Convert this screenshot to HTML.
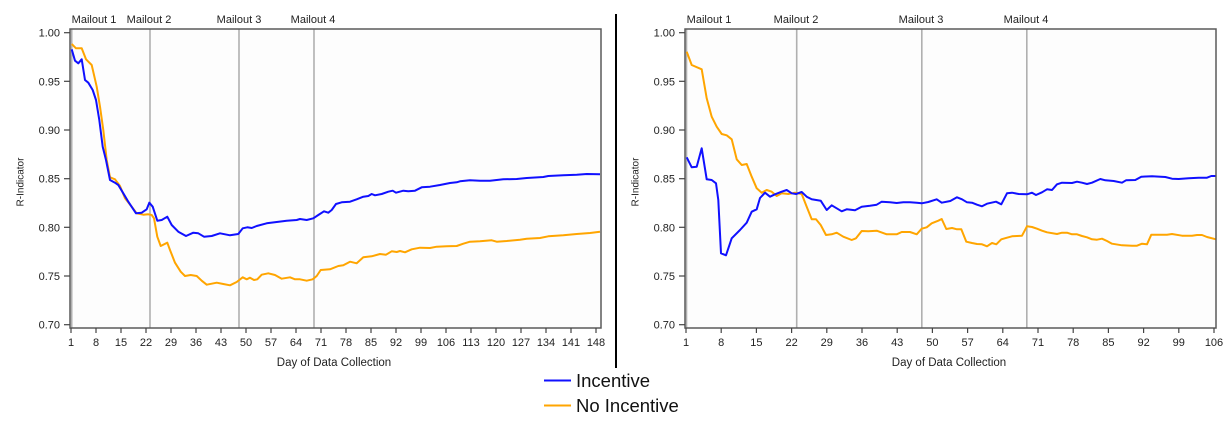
<!DOCTYPE html>
<html><head><meta charset="utf-8"><style>
html,body{margin:0;padding:0;background:#fff;}
svg{display:block;}
text{font-family:"Liberation Sans",sans-serif;fill:#222;}
</style></head><body>
<svg width="1232" height="429" viewBox="0 0 1232 429" xmlns="http://www.w3.org/2000/svg">
<rect width="1232" height="429" fill="#fff"/>
<!-- LEFT CHART -->
<g>
<rect x="70" y="29" width="531" height="299" fill="#fdfdfd" stroke="none"/>
<g stroke="#b0b0b0" stroke-width="1.6">
<line x1="71.7" y1="29" x2="71.7" y2="328"/>
<line x1="150" y1="29" x2="150" y2="328"/>
<line x1="239" y1="29" x2="239" y2="328"/>
<line x1="314" y1="29" x2="314" y2="328"/>
</g>
<g font-size="11" text-anchor="middle">
<text x="94" y="23">Mailout 1</text>
<text x="149" y="23">Mailout 2</text>
<text x="239" y="23">Mailout 3</text>
<text x="313" y="23">Mailout 4</text>
</g>
<polyline fill="none" stroke="#ffa500" stroke-width="2" stroke-linejoin="round" points="71.7,44 76,48.3 81.7,48.3 86,59.3 91.7,65 96.7,86.7 100,106.7 103.3,130 106.7,160 110,177.3 115,179.3 120,186 125,198.3 131.7,206.7 136.7,213.3 143.3,214.7 148.3,214.3 151.7,215 154,218.3 157.3,236.7 160.7,246 167.3,242.7 170,250 175,262.7 180.7,271.7 185,276 190.7,275 196.7,276 201.7,280.7 206.7,284.7 216.7,282.7 223.3,284 230,285.3 236.7,282 242.7,277.3 246.7,279.3 250,277.7 254,280 257.3,279.3 261.7,274.7 268.3,273.3 275,275 281.7,278.7 290,277.3 295,279.3 300,279.3 306.7,280.7 312.7,279.3 316.7,276 320.7,270 330,269.3 338.3,266 343.3,265.3 350,261.7 356.7,263.3 363.3,257.3 371.7,256.3 380,254 386,254.7 391.7,251.3 396.7,252 400,251 405,252.3 411.7,249.3 420,247.7 430,248 436.7,246.7 446.7,246.3 456.7,246 463.3,243.7 470,241.7 480,241.3 491.7,240.3 496.7,241.7 506.7,241 520,239.7 526.7,238.7 540,238 548.3,236.3 563.3,235.3 576.7,234 590,233 600,231.7"/>
<polyline fill="none" stroke="#1010ff" stroke-width="2" stroke-linejoin="round" points="71.7,49.3 75,60.7 78.3,63.3 81.7,59.3 85,80 88.3,82.7 92.7,90 96,100 99.3,120 102.7,146.7 106,160 110,180 115,182.7 118.3,185 123.3,193.3 128.3,201.7 136,213.3 141.7,212.7 146.7,209.3 149.3,202.7 152.7,206.7 157.3,220.7 161.7,220 167.3,216.7 171.7,225 178.3,231.7 186,236 193.3,232.7 198.3,233.3 204,236.7 211.7,236 220,233.3 230,235.3 238.3,234 242.7,228.3 247.3,227.3 251.7,228 256.7,226 266.7,223.3 276.7,222 286.7,220.7 296.7,220 300,219 306.7,220 313.3,218.3 318.3,215 324,211.3 328.3,212.7 331.7,210 336,204 341.7,202.3 350,201.7 356.7,199.3 363.3,196.7 368.3,196 371.7,194 375,195.3 381.7,194 388.3,191.7 392.7,190.7 396,192.7 403.3,190.7 408.3,191.3 415,190.7 421.7,187.3 430,186.7 440,185 450,183 456.7,182.3 460,181.3 470,180.3 480,180.7 490,180.7 503.3,179.3 516.7,179 526.7,178 543.3,177 548.3,176 563.3,175.3 576.7,174.7 586.7,174 600,174.3"/>
<rect x="70" y="29" width="531" height="299" fill="none" stroke="#5a5a5a" stroke-width="1.5"/>
<g stroke="#444" stroke-width="1.2">
<line x1="64" y1="32.7" x2="70" y2="32.7"/><line x1="64" y1="81.3" x2="70" y2="81.3"/><line x1="64" y1="130" x2="70" y2="130"/><line x1="64" y1="178.7" x2="70" y2="178.7"/><line x1="64" y1="227.3" x2="70" y2="227.3"/><line x1="64" y1="276" x2="70" y2="276"/><line x1="64" y1="324.7" x2="70" y2="324.7"/>
</g>
<g font-size="11" text-anchor="end">
<text x="60" y="36.7">1.00</text><text x="60" y="85.3">0.95</text><text x="60" y="134">0.90</text><text x="60" y="182.7">0.85</text><text x="60" y="231.3">0.80</text><text x="60" y="280">0.75</text><text x="60" y="328.7">0.70</text>
</g>
<g stroke="#444" stroke-width="1.2">
<line x1="71" y1="328" x2="71" y2="333"/><line x1="96" y1="328" x2="96" y2="333"/><line x1="121" y1="328" x2="121" y2="333"/><line x1="146" y1="328" x2="146" y2="333"/><line x1="171" y1="328" x2="171" y2="333"/><line x1="196" y1="328" x2="196" y2="333"/><line x1="221" y1="328" x2="221" y2="333"/><line x1="246" y1="328" x2="246" y2="333"/><line x1="271" y1="328" x2="271" y2="333"/><line x1="296" y1="328" x2="296" y2="333"/><line x1="321" y1="328" x2="321" y2="333"/><line x1="346" y1="328" x2="346" y2="333"/><line x1="371" y1="328" x2="371" y2="333"/><line x1="396" y1="328" x2="396" y2="333"/><line x1="421" y1="328" x2="421" y2="333"/><line x1="446" y1="328" x2="446" y2="333"/><line x1="471" y1="328" x2="471" y2="333"/><line x1="496" y1="328" x2="496" y2="333"/><line x1="521" y1="328" x2="521" y2="333"/><line x1="546" y1="328" x2="546" y2="333"/><line x1="571" y1="328" x2="571" y2="333"/><line x1="596" y1="328" x2="596" y2="333"/>
</g>
<g font-size="11" text-anchor="middle">
<text x="71" y="346">1</text><text x="96" y="346">8</text><text x="121" y="346">15</text><text x="146" y="346">22</text><text x="171" y="346">29</text><text x="196" y="346">36</text><text x="221" y="346">43</text><text x="246" y="346">50</text><text x="271" y="346">57</text><text x="296" y="346">64</text><text x="321" y="346">71</text><text x="346" y="346">78</text><text x="371" y="346">85</text><text x="396" y="346">92</text><text x="421" y="346">99</text><text x="446" y="346">106</text><text x="471" y="346">113</text><text x="496" y="346">120</text><text x="521" y="346">127</text><text x="546" y="346">134</text><text x="571" y="346">141</text><text x="596" y="346">148</text>
</g>
<text x="334" y="366" font-size="11.5" text-anchor="middle">Day of Data Collection</text>
<text transform="translate(23.5,182) rotate(-90)" font-size="10" text-anchor="middle">R-Indicator</text>
</g>

<!-- SEPARATOR -->
<line x1="616" y1="14" x2="616" y2="368" stroke="#000" stroke-width="2"/>

<!-- RIGHT CHART -->
<g>
<rect x="685" y="29" width="531" height="299" fill="#fdfdfd" stroke="none"/>
<g stroke="#b0b0b0" stroke-width="1.6">
<line x1="686.5" y1="29" x2="686.5" y2="328"/>
<line x1="796.7" y1="29" x2="796.7" y2="328"/>
<line x1="921.8" y1="29" x2="921.8" y2="328"/>
<line x1="1026.8" y1="29" x2="1026.8" y2="328"/>
</g>
<g font-size="11" text-anchor="middle">
<text x="709" y="23">Mailout 1</text>
<text x="796" y="23">Mailout 2</text>
<text x="921" y="23">Mailout 3</text>
<text x="1026" y="23">Mailout 4</text>
</g>
<polyline fill="none" stroke="#ffa500" stroke-width="2" stroke-linejoin="round" points="686.7,51.7 691.7,65 701.7,69.3 706.7,98.3 711.7,116.7 716.7,126.7 721.7,134 726.7,135.3 731.7,139.3 736.7,159.3 741.7,165 746.7,164 751.7,176.7 756.7,188.3 761.7,192.7 766.7,190 771.7,191.7 776.7,196 781.7,193.3 788.3,194 795,192.7 801.7,194 806.7,206.7 811.7,219.3 816,219.3 820.7,225 826,235 831.7,234.3 836.7,232.7 843.3,236.7 851.7,240 856,238.3 861.7,231 868.3,231.3 876.7,230.7 886.7,234.3 896.7,234.3 901.7,232 910,232 916.7,234.3 921.7,228.7 926.7,227.3 931.7,223.3 938.3,220.7 941.7,219 946.3,229 952,228 957,229.3 961.3,229.3 966.3,241.7 972,243 977,244 982,244.3 987,246.3 992,243 996.3,244.3 1001.3,239.3 1007,237.7 1012,236.3 1017,236 1022,235.7 1027,226.3 1032,227 1037,228.7 1042,230.7 1047,232.3 1057,234 1062,232.7 1067,232.7 1072,234.3 1077,234.3 1082,236 1087,237.3 1092,239.3 1097,239.7 1102,238.7 1107,241 1112,243.7 1122,245.3 1132,245.7 1137,245.7 1142,243.7 1147,244.3 1151.3,234.7 1162,234.7 1167,234.7 1172,234 1182,235.7 1192,235.7 1197,235 1202,235 1207,237 1216,239.3"/>
<polyline fill="none" stroke="#1010ff" stroke-width="2" stroke-linejoin="round" points="686.7,157.3 691.7,167.3 696.7,166.7 701.7,148.3 706.7,179.3 711.7,180 716,183.3 718.3,200 721,253.3 726,255.3 731.7,238.3 740,230 746.7,222.7 751.7,211.7 756.7,209.3 760,198 765,192.7 770,196.7 775,194.3 781.7,191.7 786.7,190 791.7,193.3 796,194 801.7,192 806.7,196.7 811.7,199.3 820.7,200.7 826.7,210 831.7,205.3 841.7,211.3 846.7,209.3 855,210.3 861.7,206.7 870,205.7 876.7,204.7 881.7,201.7 890,202.3 896.7,203 903.3,202.3 910,202.3 916.7,202.7 921.7,203.3 928.3,202 936.7,199.3 941.7,202.7 950.3,201 957,197.3 962,199.3 967,202.3 972,202.7 977,204.7 982,206.3 987,203.7 996,201.7 1001.3,204.3 1007,193.3 1012,192.7 1018.7,194 1027,194.3 1032,192.7 1036,195 1042,192.3 1047,189.3 1052,190 1057,184.3 1062,182.7 1072,183 1077,181.7 1082,182.7 1087,184 1092,182.7 1100.3,179 1105.3,180.3 1113.7,181 1122,182.7 1126,180.3 1135.3,180 1141.3,176.7 1152,176.3 1165.3,177 1172,178.7 1178.7,179 1188.7,178.3 1198.7,177.7 1207,177.7 1211.3,176 1216,176"/>
<rect x="685" y="29" width="531" height="299" fill="none" stroke="#5a5a5a" stroke-width="1.5"/>
<g stroke="#444" stroke-width="1.2">
<line x1="679" y1="32.7" x2="685" y2="32.7"/><line x1="679" y1="81.3" x2="685" y2="81.3"/><line x1="679" y1="130" x2="685" y2="130"/><line x1="679" y1="178.7" x2="685" y2="178.7"/><line x1="679" y1="227.3" x2="685" y2="227.3"/><line x1="679" y1="276" x2="685" y2="276"/><line x1="679" y1="324.7" x2="685" y2="324.7"/>
</g>
<g font-size="11" text-anchor="end">
<text x="675" y="36.7">1.00</text><text x="675" y="85.3">0.95</text><text x="675" y="134">0.90</text><text x="675" y="182.7">0.85</text><text x="675" y="231.3">0.80</text><text x="675" y="280">0.75</text><text x="675" y="328.7">0.70</text>
</g>
<g stroke="#444" stroke-width="1.2">
<line x1="686" y1="328" x2="686" y2="333"/><line x1="721.2" y1="328" x2="721.2" y2="333"/><line x1="756.4" y1="328" x2="756.4" y2="333"/><line x1="791.6" y1="328" x2="791.6" y2="333"/><line x1="826.8" y1="328" x2="826.8" y2="333"/><line x1="862" y1="328" x2="862" y2="333"/><line x1="897.2" y1="328" x2="897.2" y2="333"/><line x1="932.4" y1="328" x2="932.4" y2="333"/><line x1="967.6" y1="328" x2="967.6" y2="333"/><line x1="1002.8" y1="328" x2="1002.8" y2="333"/><line x1="1038" y1="328" x2="1038" y2="333"/><line x1="1073.2" y1="328" x2="1073.2" y2="333"/><line x1="1108.4" y1="328" x2="1108.4" y2="333"/><line x1="1143.6" y1="328" x2="1143.6" y2="333"/><line x1="1178.8" y1="328" x2="1178.8" y2="333"/><line x1="1214" y1="328" x2="1214" y2="333"/>
</g>
<g font-size="11" text-anchor="middle">
<text x="686" y="346">1</text><text x="721.2" y="346">8</text><text x="756.4" y="346">15</text><text x="791.6" y="346">22</text><text x="826.8" y="346">29</text><text x="862" y="346">36</text><text x="897.2" y="346">43</text><text x="932.4" y="346">50</text><text x="967.6" y="346">57</text><text x="1002.8" y="346">64</text><text x="1038" y="346">71</text><text x="1073.2" y="346">78</text><text x="1108.4" y="346">85</text><text x="1143.6" y="346">92</text><text x="1178.8" y="346">99</text><text x="1214" y="346">106</text>
</g>
<text x="949" y="366" font-size="11.5" text-anchor="middle">Day of Data Collection</text>
<text transform="translate(638.5,182) rotate(-90)" font-size="10" text-anchor="middle">R-Indicator</text>
</g>

<!-- LEGEND -->
<line x1="544" y1="380.5" x2="571" y2="380.5" stroke="#1010ff" stroke-width="2"/>
<line x1="544" y1="405.5" x2="571" y2="405.5" stroke="#ffa500" stroke-width="2"/>
<text x="576" y="387" font-size="18.5" fill="#111" style="fill:#111">Incentive</text>
<text x="576" y="412" font-size="18.5" fill="#111" style="fill:#111">No Incentive</text>
</svg>
</body></html>
